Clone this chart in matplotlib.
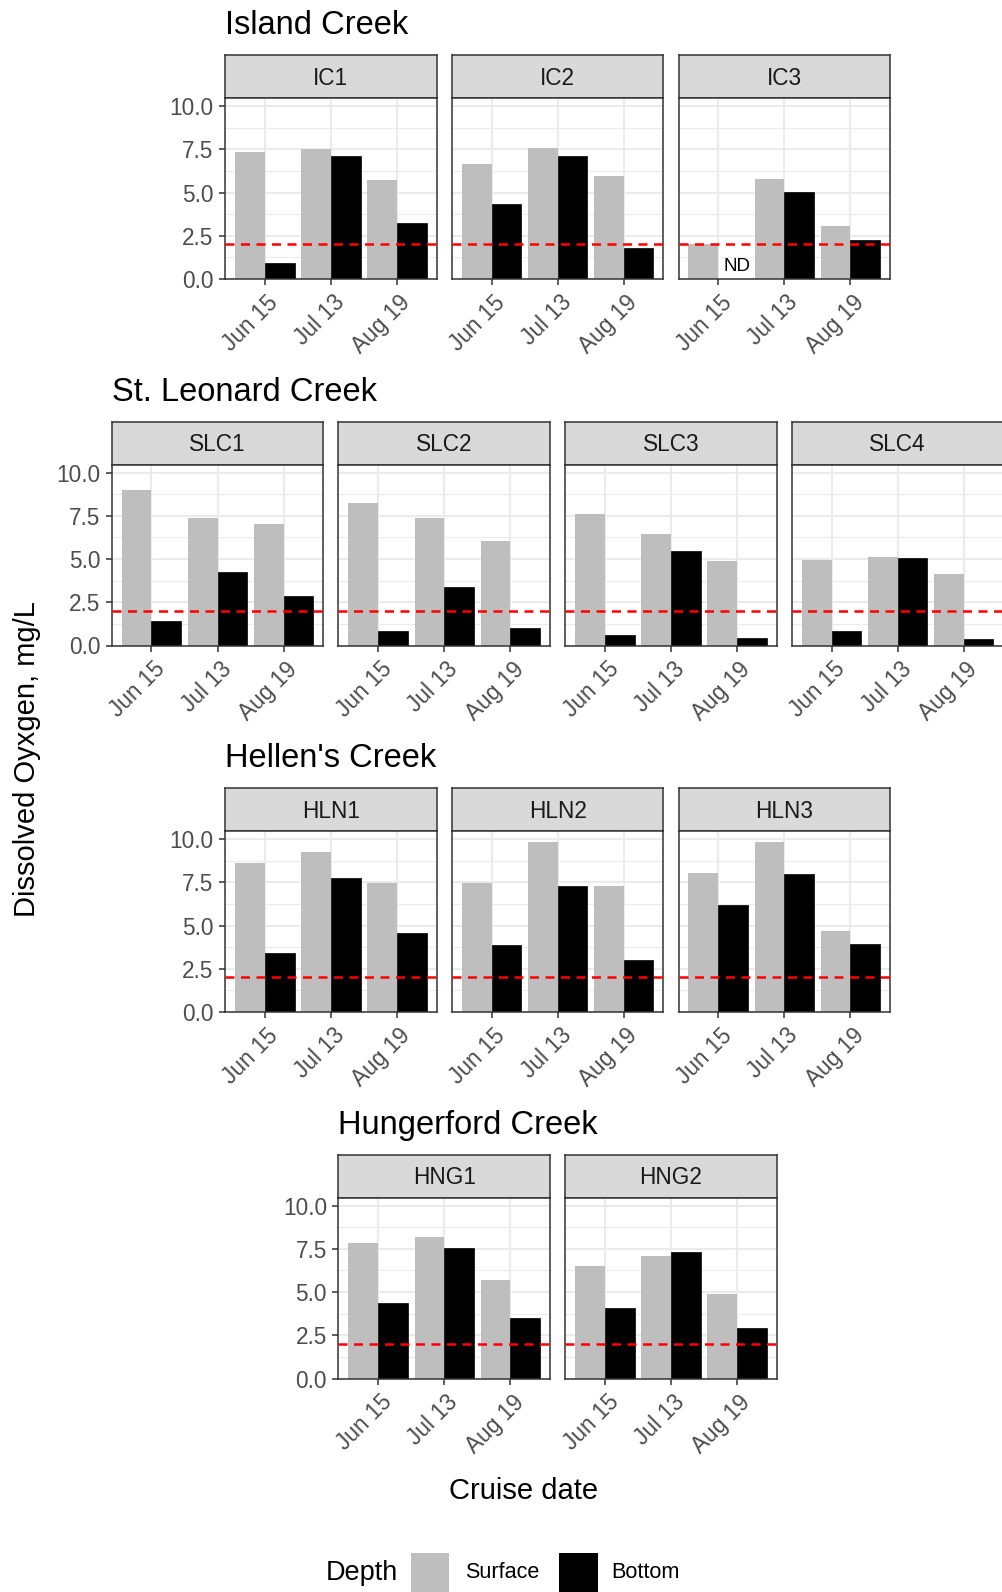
import numpy as np
import matplotlib
matplotlib.use("Agg")
import matplotlib.pyplot as plt
from matplotlib.patches import Rectangle
from matplotlib.transforms import ScaledTranslation

plt.rcParams['font.family'] = ['Liberation Sans', 'DejaVu Sans']

# Dane: tlen rozpuszczony (mg/L), powierzchnia / dno
dates = ["Jun 15", "Jul 13", "Aug 19"]
do_threshold = 2.0

island_title = "Island Creek"
island_sites = ["IC1", "IC2", "IC3"]
island_surface = [[7.37, 7.51, 5.72], [6.63, 7.55, 5.93], [2.04, 5.78, 3.09]]
island_bottom = [[0.95, 7.10, 3.21], [4.32, 7.12, 1.79], [np.nan, 5.06, 2.28]]

stleonard_title = "St. Leonard Creek"
stleonard_sites = ["SLC1", "SLC2", "SLC3", "SLC4"]
stleonard_surface = [[8.97, 7.36, 7.05], [8.26, 7.36, 6.03], [7.62, 6.45, 4.90], [4.96, 5.12, 4.13]]
stleonard_bottom = [[1.40, 4.26, 2.87], [0.85, 3.37, 0.99], [0.62, 5.48, 0.45], [0.85, 5.06, 0.35]]

hellen_title = "Hellen's Creek"
hellen_sites = ["HLN1", "HLN2", "HLN3"]
hellen_surface = [[8.60, 9.26, 7.46], [7.46, 9.84, 7.31], [8.02, 9.81, 4.69]]
hellen_bottom = [[3.41, 7.75, 4.55], [3.88, 7.31, 3.00], [6.18, 8.00, 3.91]]

hunger_title = "Hungerford Creek"
hunger_sites = ["HNG1", "HNG2"]
hunger_surface = [[7.82, 8.17, 5.72], [6.48, 7.08, 4.90]]
hunger_bottom = [[4.36, 7.55, 3.50], [4.07, 7.33, 2.92]]

# brak danych (ND) dla IC3, Jun 15, dno
nd_site = "IC3"
nd_pos = (1.28, 0.73)

rows = [
    (island_title, island_sites, island_surface, island_bottom),
    (stleonard_title, stleonard_sites, stleonard_surface, stleonard_bottom),
    (hellen_title, hellen_sites, hellen_surface, hellen_bottom),
    (hunger_title, hunger_sites, hunger_surface, hunger_bottom),
]

# Uklad w pikselach
FW, FH = 1003, 1592
DPI = 100
PW, GAP = 211.5, 15.2
PANEL_H, STRIP_H = 180.7, 43.3
ROW_PITCH = 366.5
FIRST_TOP = 98.3
CENTER_X = 557.6
YMAX = 10.45

SURF_COL = "#BEBEBE"
BOT_COL = "#000000"
DARK = "#333333"
GRID = "#EBEBEB"
TICK_FS = 16.3

fig = plt.figure(figsize=(FW / DPI, FH / DPI), dpi=DPI)


def px_axes(x, y, w, h):
    return fig.add_axes([x / FW, 1 - (y + h) / FH, w / FW, h / FH])


def pt(px):
    return px * 72.0 / DPI


for r, (title, sites, surface, bottom) in enumerate(rows):
    n = len(sites)
    start = CENTER_X - (n * PW + (n - 1) * GAP) / 2
    top = FIRST_TOP + r * ROW_PITCH
    fig.text(start / FW, 1 - (34.3 + r * ROW_PITCH) / FH, title,
             fontsize=23.5, va='baseline', ha='left', color='black')

    for i, site in enumerate(sites):
        left = start + i * (PW + GAP)

        # pasek z nazwa stacji
        sax = px_axes(left, top - STRIP_H, PW, STRIP_H)
        sax.set_facecolor("#D9D9D9")
        sax.set_xticks([])
        sax.set_yticks([])
        for sp in sax.spines.values():
            sp.set_color(DARK)
            sp.set_linewidth(1.1)
        sax.text(0.5, 0.46, site, transform=sax.transAxes, ha='center', va='center',
                 fontsize=TICK_FS, color="#1A1A1A")

        ax = px_axes(left, top, PW, PANEL_H)
        x = np.arange(1, len(dates) + 1)
        s = np.array(surface[i], dtype=float)
        b = np.array(bottom[i], dtype=float)
        ax.bar(x - 0.225, s, width=0.45, color=SURF_COL, zorder=2)
        ok = ~np.isnan(b)
        ax.bar(x[ok] + 0.225, b[ok], width=0.45, color=BOT_COL, edgecolor=BOT_COL,
               linewidth=0.5, zorder=2)
        ax.axhline(do_threshold, color='#FF0000', linestyle=(0, (3.6, 2.6)),
                   linewidth=1.8, zorder=3)
        if site == nd_site:
            ax.text(nd_pos[0], nd_pos[1], "ND", ha='center', va='center',
                    fontsize=13.5, color='black', zorder=4)

        ax.set_xlim(0.4, 3.6)
        ax.set_ylim(0, YMAX)
        ax.set_xticks(x)
        ax.set_xticklabels(dates)
        ax.set_yticks([0, 2.5, 5, 7.5, 10])
        ax.set_yticks([1.25, 3.75, 6.25, 8.75], minor=True)
        ax.set_axisbelow(True)
        ax.grid(which='major', color=GRID, linewidth=1.5)
        ax.grid(which='minor', axis='y', color=GRID, linewidth=0.8)
        for sp in ax.spines.values():
            sp.set_color(DARK)
            sp.set_linewidth(1.1)

        ax.tick_params(axis='both', which='major', length=pt(6), width=1.1, color=DARK,
                       labelsize=TICK_FS, labelcolor="#4D4D4D")
        ax.tick_params(axis='y', which='minor', length=0)
        ax.tick_params(axis='y', pad=pt(5.5))
        ax.tick_params(axis='x', pad=pt(6))
        if i == 0:
            ax.set_yticklabels(["0.0", "2.5", "5.0", "7.5", "10.0"])
        else:
            ax.tick_params(axis='y', which='major', left=False, labelleft=False)

        for lab in ax.get_xticklabels():
            lab.set_rotation(45)
            lab.set_ha('right')
            lab.set_va('top')
            lab.set_rotation_mode('anchor')
            lab.set_transform(lab.get_transform() +
                              ScaledTranslation(2 / DPI, 0, fig.dpi_scale_trans))

# Tytuly osi
fig.text(523.3 / FW, 1 - 1499.3 / FH, "Cruise date", ha='center', va='baseline',
         fontsize=21, color='black')
fig.text(27.4 / FW, 1 - 759 / FH, "Dissolved Oyxgen, mg/L", ha='center', va='center',
         rotation=90, fontsize=21, color='black')

# Legenda
fig.text(326 / FW, 1 - 1573 / FH, "Depth", ha='left', va='center', fontsize=19.5,
         color='black')
legend_items = [("Surface", SURF_COL, 410.7, 465.5), ("Bottom", BOT_COL, 559.0, 611.0)]
for label, col, sx, tx in legend_items:
    fig.add_artist(Rectangle((sx / FW, 1 - (1553 + 38.6) / FH), 38.6 / FW, 38.6 / FH,
                             transform=fig.transFigure, facecolor=col, edgecolor='none'))
    fig.text(tx / FW, 1 - 1573 / FH, label, ha='left', va='center', fontsize=15.6,
             color='black')

fig.savefig("out.png", dpi=DPI, facecolor='white')
